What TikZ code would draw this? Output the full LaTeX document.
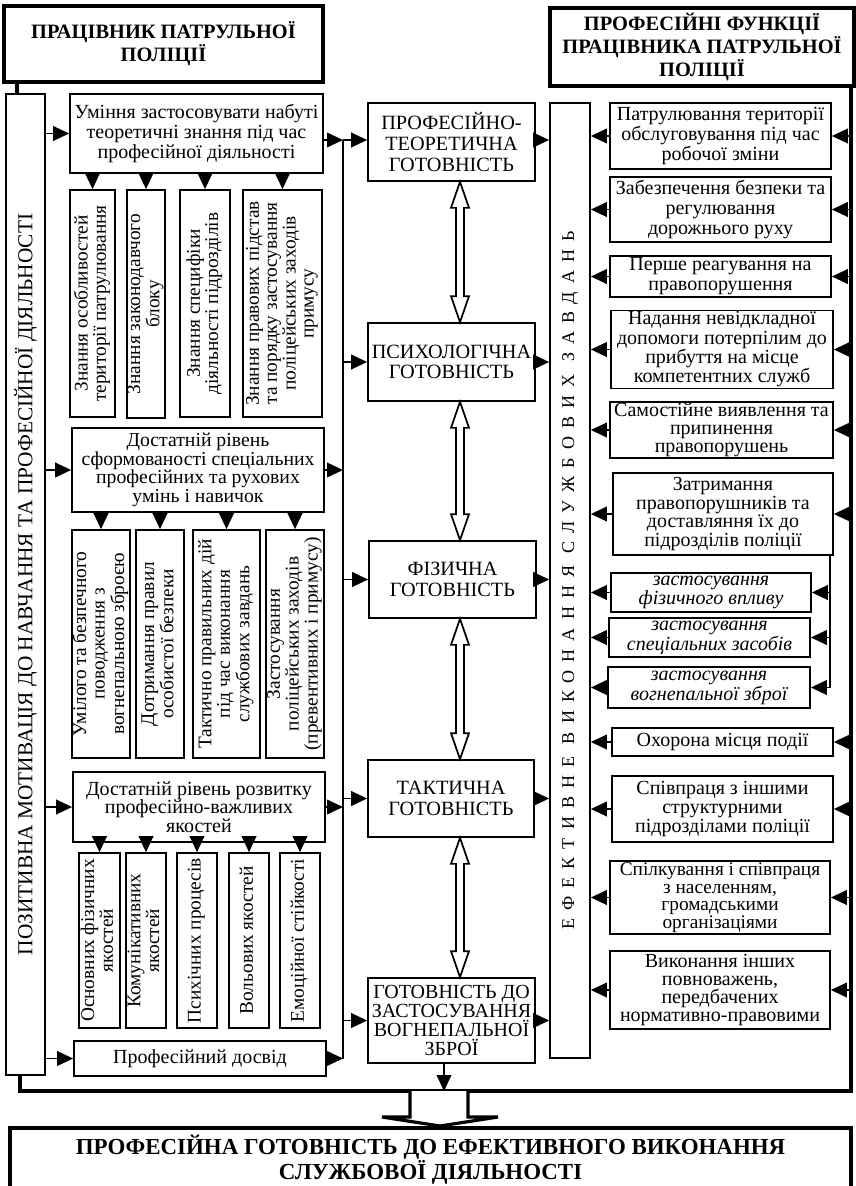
\documentclass[tikz,border=0pt]{standalone}
\usepackage{fontspec}
\setmainfont{Liberation Serif}
\usepackage{graphicx}
\usetikzlibrary{arrows.meta,calc}
\newcommand\ls[1]{\fontsize{15}{#1}\selectfont}
\newcommand\lr[1]{\fontsize{14.5}{#1}\selectfont}
\newcommand\rt[1]{\rotatebox{90}{\begin{tabular}{@{}c@{}}#1\end{tabular}}}
\newcommand\bx[7]{\node[#1, minimum width={(#5-#3)*0.75pt}, minimum height={(#6-#4)*0.75pt}] (#2) at ({(#3+#5)/2},{(#4+#6)/2}) {#7};}
\newcommand\dbl[2]{\draw[hol] (ax |- #1.south) -- ++(9,26) -- ++(-5,0) -- ($(ax |- #2.north)+(4,-26)$) -- ++(5,0) -- (ax |- #2.north) -- ++(-9,-26) -- ++(5,0) -- ($(ax |- #1.south)+(-4,26)$) -- ++(-5,0) -- cycle;}
\begin{document}
\begin{tikzpicture}[x=0.75pt,y=-0.75pt,
  box/.style={draw, line width=1.3pt, align=center, inner sep=1pt, font=\ls{15}},
  rbox/.style={box, inner sep=0pt},
  ttl/.style={draw, line width=3pt, align=center, inner sep=1pt, font=\fontsize{15.3}{15.5}\selectfont\bfseries},
  conn/.style={line width=1.3pt},
  arr/.style={conn, -{Triangle[length=12pt,width=11pt]}},
  frm/.style={line width=2.4pt},
  hol/.style={line width=1.3pt, fill=white, line join=miter}]
\useasboundingbox (0,0) rectangle (856,1186);
% titles
\bx{ttl}{Lt}{4}{6}{323}{82}{ПРАЦІВНИК ПАТРУЛЬНОЇ\\ПОЛІЦІЇ}
\bx{ttl}{Rt}{550}{8}{854}{86}{ПРОФЕСІЙНІ ФУНКЦІЇ\\ПРАЦІВНИКА ПАТРУЛЬНОЇ\\ПОЛІЦІЇ}
% vertical bars
\bx{rbox}{Lv}{6}{94}{45}{1075}{\rotatebox{90}{\fontsize{16}{16}\selectfont ПОЗИТИВНА МОТИВАЦІЯ ДО НАВЧАННЯ ТА ПРОФЕСІЙНОЇ ДІЯЛЬНОСТІ}}
\bx{rbox}{E}{550}{103}{590}{1058}{\rotatebox{90}{\fontsize{13.5}{13.5}\selectfont\addfontfeature{LetterSpace=45}ЕФЕКТИВНЕ ВИКОНАННЯ СЛУЖБОВИХ ЗАВДАНЬ}}
% left column
\bx{box}{A}{70}{94}{323}{173}{Уміння застосовувати набуті\\теоретичні знання під час\\професійної діяльності}
\bx{rbox,font=\lr{13.5}}{s1}{70}{190}{115}{417}{\rt{Знання особливостей\\території патрулювання}}
\bx{rbox,font=\lr{13.5}}{s2}{127}{190}{165}{418}{\rt{Знання законодавчого\\блоку}}
\bx{rbox,font=\lr{13.5}}{s3}{180}{190}{230}{417}{\rt{Знання специфіки\\діяльності підрозділів}}
\bx{rbox,font=\lr{13.5}}{s4}{243}{190}{322}{417}{\rt{Знання правових підстав\\та порядку застосування\\поліцейських заходів\\примусу}}
\bx{box,font=\fontsize{14.8}{13.9}\selectfont}{B}{72}{428}{324}{512}{Достатній рівень\\сформованості спеціальних\\професійних та рухових\\умінь і навичок}
\bx{rbox,font=\lr{14}}{s5}{72}{530}{130}{758}{\rt{Умілого та безпечного\\поводження з\\вогнепальною зброєю}}
\bx{rbox,font=\lr{14}}{s6}{136}{530}{184}{758}{\rt{Дотримання правил\\особистої безпеки}}
\bx{rbox,font=\lr{14}}{s7}{193}{530}{260}{758}{\rt{Тактично правильних дій\\під час виконання\\службових завдань}}
\bx{rbox,font=\lr{14}}{s8}{266}{530}{324}{758}{\rt{Застосування\\поліцейських заходів\\(превентивних і примусу)}}
\bx{box,font=\ls{14}}{C}{73}{772}{325}{842}{Достатній рівень розвитку\\професійно-важливих\\якостей}
\bx{rbox,font=\lr{13.5}}{s9}{79}{853}{120}{1028}{\rt{Основних фізичних\\якостей}}
\bx{rbox,font=\lr{13.5}}{s10}{126}{853}{166}{1028}{\rt{Комунікативних\\якостей}}
\bx{rbox,font=\lr{13.5}}{s11}{177}{853}{217}{1028}{\rt{Психічних процесів}}
\bx{rbox,font=\lr{13.5}}{s12}{229}{853}{269}{1028}{\rt{Вольових якостей}}
\bx{rbox,font=\lr{13.5}}{s13}{280}{853}{320}{1028}{\rt{Емоційної стійкості}}
\bx{box}{D}{74}{1041}{326}{1076}{Професійний досвід}
% centre column
\bx{box,font=\fontsize{15.2}{15.8}\selectfont}{P1}{368}{103}{535}{181}{ПРОФЕСІЙНО-\\ТЕОРЕТИЧНА\\ГОТОВНІСТЬ}
\bx{box,font=\fontsize{15.2}{15.5}\selectfont}{P2}{368}{323}{535}{401}{ПСИХОЛОГІЧНА\\ГОТОВНІСТЬ}
\bx{box,font=\fontsize{15.2}{15.5}\selectfont}{P3}{369}{541}{536}{618}{ФІЗИЧНА\\ГОТОВНІСТЬ}
\bx{box,font=\fontsize{15.2}{15.5}\selectfont}{P4}{368}{760}{534}{837}{ТАКТИЧНА\\ГОТОВНІСТЬ}
\bx{box,font=\fontsize{15}{14.2}\selectfont}{P5}{368}{978}{535}{1063}{ГОТОВНІСТЬ ДО\\ЗАСТОСУВАННЯ\\ВОГНЕПАЛЬНОЇ\\ЗБРОЇ}
% right column
\bx{box}{R1}{610}{103}{831}{169}{Патрулювання території\\обслуговування під час\\робочої зміни}
\bx{box}{R2}{610}{177}{831}{242}{Забезпечення безпеки та\\регулювання\\дорожнього руху}
\bx{box}{R3}{610}{256}{831}{297}{Перше реагування на\\правопорушення}
\bx{box,font=\ls{14.5}}{R4}{611}{311}{833}{388}{Надання невідкладної\\допомоги потерпілим до\\прибуття на місце\\компетентних служб}
\bx{box,font=\ls{13.5}}{R5}{610}{402}{833}{458}{Самостійне виявлення та\\припинення\\правопорушень}
\bx{box,font=\ls{13.8}}{R6}{613}{473}{833}{555}{Затримання\\правопорушників та\\доставляння їх до\\підрозділів поліції}
\bx{box,font=\ls{13.5}\itshape}{R6a}{611}{573}{811}{612}{застосування\\фізичного впливу}
\bx{box,font=\ls{13.5}\itshape}{R6b}{609}{618}{810}{657}{застосування\\спеціальних засобів}
\bx{box,font=\ls{13.5}\itshape}{R6c}{608}{667}{810}{708}{застосування\\вогнепальної зброї}
\bx{box}{R7}{612}{728}{833}{756}{Охорона місця події}
\bx{box,font=\ls{14.3}}{R8}{612}{776}{833}{842}{Співпраця з іншими\\структурними\\підрозділами поліції}
\bx{box,font=\fontsize{14.5}{13.2}\selectfont}{R9}{610}{864}{830}{931}{Спілкування і співпраця\\з населенням,\\громадськими\\організаціями}
\bx{box,font=\ls{13.5}}{R10}{610}{951}{830}{1029}{Виконання інших\\повноважень,\\передбачених\\нормативно-правовими}
% final box
\bx{ttl,font=\fontsize{17.2}{15.5}\selectfont\bfseries}{F}{10}{1128}{851}{1192}{ПРОФЕСІЙНА ГОТОВНІСТЬ ДО ЕФЕКТИВНОГО ВИКОНАННЯ\\СЛУЖБОВОЇ ДІЯЛЬНОСТІ}
% coordinates
\coordinate (fx1) at (17,0);
\coordinate (fx2) at (20,1091);
\coordinate (fx3) at (851,1091);
\coordinate (mx) at (343,0);
\coordinate (yA) at (0,140);
\coordinate (ax) at (460,0);
\coordinate (sx) at (830,0);
\coordinate (px) at (444,0);
\coordinate (bt) at (440,0);
% frame
\draw[frm] (fx1 |- Lt.south) -- (fx1 |- Lv.north);
\draw[frm, line join=miter] (fx2 |- Lv.south) -- (fx2) -- (fx3) -- (fx3 |- Rt.south);
% left column connectors
\draw[arr] (Lv.east |- A.west) -- (A.west);
\draw[arr] (Lv.east |- B.west) -- (B.west);
\draw[arr] (Lv.east |- C.west) -- (C.west);
\draw[arr] (Lv.east |- D.west) -- (D.west);
\foreach \s in {s1,s2,s3,s4} \draw[arr] (\s.north |- A.south) -- (\s.north);
\foreach \s in {s5,s6,s7,s8} \draw[arr] (\s.north |- B.south) -- (\s.north);
\foreach \s in {s9,s10,s11,s12,s13} \draw[arr] (\s.north |- C.south) -- (\s.north);
\draw[conn] (mx |- yA) -- (mx |- D.east);
\draw[arr] (A.east |- yA) -- (mx |- yA);
\draw[arr] (B.east) -- (mx |- B.east);
\draw[arr] (C.east) -- (mx |- C.east);
\draw[arr] (D.east) -- (mx |- D.east);
\draw[arr] (mx |- yA) -- (P1.west |- yA);
\foreach \p in {P2,P3,P4,P5} \draw[arr] (mx |- \p.west) -- (\p.west);
\draw[arr] (P1.east |- yA) -- (E.west |- yA);
\foreach \p in {P2,P3,P4,P5} \draw[arr] (\p.east) -- (E.west |- \p.east);
\dbl{P1}{P2}
\dbl{P2}{P3}
\dbl{P3}{P4}
\dbl{P4}{P5}
% right column connectors
\foreach \r in {R1,R2,R3,R4,R5,R6,R7,R8,R9,R10} \draw[arr] (fx3 |- \r.east) -- (\r.east);
\foreach \r in {R1,R2,R3,R4,R5,R6,R6a,R6b,R6c,R7,R8,R9,R10} \draw[arr] (\r.west) -- (E.east |- \r.west);
\draw[conn] (sx |- R6.south) -- (sx |- R6c.east);
\foreach \r in {R6a,R6b,R6c} \draw[arr] (sx |- \r.east) -- (\r.east);
% bottom
\draw[arr] (px |- P5.south) -- (px |- fx3);
\draw[frm, fill=white, line join=miter] (410,1091) -- (410,1117) -- (382,1117) -- (bt |- F.north) -- (498,1117) -- (468,1117) -- (468,1091);
\end{tikzpicture}
\end{document}
